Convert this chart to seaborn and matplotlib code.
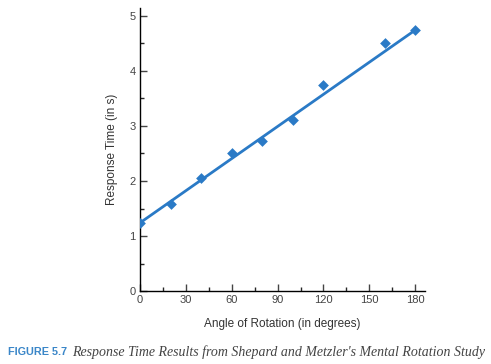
import matplotlib
matplotlib.use("Agg")
import matplotlib.pyplot as plt
import seaborn as sns
import pandas as pd
from matplotlib.ticker import MultipleLocator

# values
angle = [0, 20, 40, 60, 80, 100, 120, 160, 180]
response_time = [1.24, 1.58, 2.05, 2.51, 2.73, 3.11, 3.75, 4.50, 4.74]
# straight line drawn through the points in the original
fit_angle = [0, 180]
fit_rt = [1.24, 4.74]
x_ticks = [0, 30, 60, 90, 120, 150, 180]
y_ticks = [0, 1, 2, 3, 4, 5]

data = pd.DataFrame({"angle": angle, "rt": response_time})
fit = pd.DataFrame({"angle": fit_angle, "rt": fit_rt})
blue = "#2a7ac6"

sns.set_style("ticks")
plt.rcParams['font.family'] = ['Liberation Sans', 'DejaVu Sans']

fig = plt.figure(figsize=(4.91, 3.64), dpi=100)
ax = fig.add_axes([0.285, 0.2, 0.581, 0.778])

sns.lineplot(x="angle", y="rt", data=fit, ax=ax, color=blue, linewidth=2)
sns.scatterplot(x="angle", y="rt", data=data, ax=ax, color=blue, marker="D",
                s=30, linewidth=0, zorder=3)

ax.set_xlim(0, 186.5)
ax.set_ylim(0, 5.14)
ax.set_xticks(x_ticks)
ax.set_yticks(y_ticks)
ax.xaxis.set_minor_locator(MultipleLocator(15))
ax.yaxis.set_minor_locator(MultipleLocator(0.5))
ax.tick_params(which="major", direction="in", length=5, width=1, labelsize=8, colors="#444444", pad=3)
ax.tick_params(which="minor", direction="in", length=3, width=1)
for s in ["top", "right"]:
    ax.spines[s].set_visible(False)
for s in ["left", "bottom"]:
    ax.spines[s].set_linewidth(1)
    ax.spines[s].set_color("black")

ax.set_xlabel("Angle of Rotation (in degrees)", fontsize=8.5, color="#333333", labelpad=9)
ax.set_ylabel("Response Time (in s)", fontsize=8.5, color="#333333", labelpad=8)

# caption
fig.text(8 / 491, 1 - 352 / 364, "FIGURE 5.7", fontsize=7.8, fontweight="bold",
         color="#3a86c8", va="center", ha="left")
fig.text(72 / 491, 1 - 352 / 364,
         "Response Time Results from Shepard and Metzler's Mental Rotation Study",
         fontsize=10, style="italic", family="Liberation Serif",
         color="#444444", va="center", ha="left")

fig.savefig("out.png", dpi=100)
